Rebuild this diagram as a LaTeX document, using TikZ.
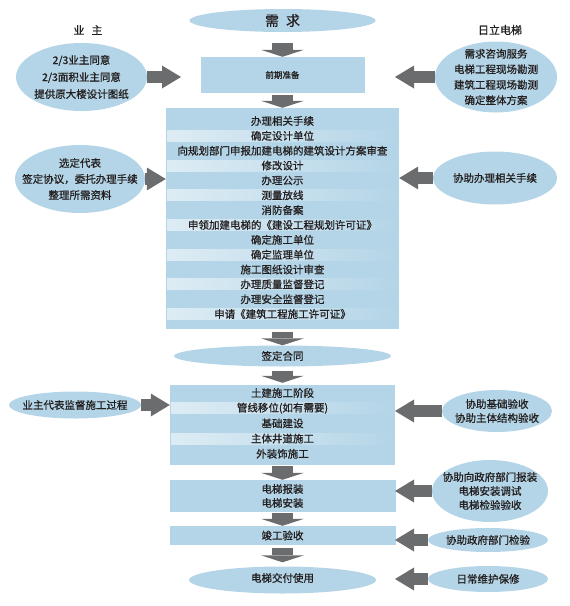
\documentclass[tikz,border=0pt]{standalone}
\usepackage{fontspec}
\newfontfamily\cjk[FakeBold=0.8]{Noto Sans CJK SC}
\usetikzlibrary{arrows.meta}
\usetikzlibrary{shapes.geometric}
\definecolor{paleblue}{HTML}{B4D5E7}
\definecolor{arrowgrey}{HTML}{6B6C6E}
\definecolor{inkblack}{HTML}{231F20}
\tikzset{
bubble/.style={ellipse, fill=paleblue, inner sep=0pt},
stage/.style={rectangle, fill=paleblue, inner sep=0pt, font=\cjk\fontsize{10.5}{14}\selectfont, text=inkblack, align=center},
item/.style={font=\cjk\fontsize{10.5}{15.5}\selectfont, text=inkblack, align=center, inner sep=0pt},
band/.style={left color=paleblue!45!white, middle color=paleblue!10!white, right color=paleblue},
down_arrow/.style={draw=arrowgrey, fill=arrowgrey, line width=21pt, -{Triangle[width=43pt,length=7pt,line width=0pt]}},
side_arrow/.style={draw=arrowgrey, fill=arrowgrey, line width=12pt, -{Triangle[width=23pt,length=19pt,line width=0pt]}}
}

\begin{document}
\begin{tikzpicture}[x=1pt, y=-1pt]
    \useasboundingbox (0,0) rectangle (570,606);
    \coordinate (left_stop) at (181,0);
    \coordinate (right_stop) at (395,0);

    % column titles
    \node[item, font=\cjk\fontsize{11}{13}\selectfont] (owner_title) at (88,30) {业\hspace{7pt}主};
    \node[item, font=\cjk\fontsize{11}{13}\selectfont] (hitachi_title) at (500,30) {日立电梯};

    % main flow
    \node[bubble, minimum width=186pt, minimum height=23pt] (need) at (282.5,20.5) {};
    \node[item, font=\cjk\fontsize{14}{16}\selectfont] (need_text) at (need) {需\hspace{7pt}求};
    \node[stage, minimum width=164pt, minimum height=36pt, font=\cjk\fontsize{8.5}{10}\selectfont] (prep) at (282.5,75) {前期准备};
    \node[stage, minimum width=233pt, minimum height=221pt] (procs) at (282.5,218.5) {};
    \foreach \i in {2,4,...,14}
        \fill[band] (167,{121+14.85*(\i-1)-5.5}) rectangle (398,{121+14.85*(\i-1)+5.5});
    \foreach \t [count=\i] in {办理相关手续, 确定设计单位, 向规划部门申报加建电梯的建筑设计方案审查, 修改设计, 办理公示, 测量放线, 消防备案, 申领加建电梯的《建设工程规划许可证》, 确定施工单位, 确定监理单位, 施工图纸设计审查, 办理质量监督登记, 办理安全监督登记, 申请《建筑工程施工许可证》}
        \node[item] (proc_\i) at (282.5,{121+14.85*(\i-1)}) {\t};

    \node[bubble, minimum width=217pt, minimum height=21pt] (sign) at (282.5,356) {};
    \node[item] (sign_text) at (sign) {签定合同};
    \node[stage, minimum width=225pt, minimum height=80pt] (build) at (282.5,425) {};
    \foreach \i in {2,4}
        \fill[band] (171,{393+15.2*(\i-1)-5.5}) rectangle (394,{393+15.2*(\i-1)+5.5});
    \foreach \t [count=\i] in {土建施工阶段, 管线移位(如有需要), 基础建设, 主体井道施工, 外装饰施工}
        \node[item] (build_\i) at (282.5,{393+15.2*(\i-1)}) {\t};

    \node[stage, minimum width=226pt, minimum height=32pt] (install) at (282.5,496) {电梯报装\\电梯安装};
    \node[stage, minimum width=226pt, minimum height=19pt] (accept) at (282.5,535.5) {竣工验收};
    \node[bubble, minimum width=187pt, minimum height=27pt] (deliver) at (282.5,580) {};
    \node[item] (deliver_text) at ([yshift=2pt]deliver) {电梯交付使用};

    % owner side
    \node[bubble, minimum width=131pt, minimum height=68pt] (owners) at (81.5,77) {};
    \node[item, font=\cjk\fontsize{10.5}{17}\selectfont] (owners_text) at (owners) {2/3业主同意\\2/3面积业主同意\\提供原大楼设计图纸};
    \node[bubble, minimum width=130pt, minimum height=68pt] (rep) at (80,179) {};
    \node[item, font=\cjk\fontsize{10.5}{16}\selectfont] (rep_text) at (rep) {选定代表\\签定协议，委托办理手续\\整理所需资料};
    \node[bubble, minimum width=132pt, minimum height=27pt] (supervise) at (75,405) {};
    \node[item] (supervise_text) at (supervise) {业主代表监督施工过程};

    % hitachi side
    \node[bubble, minimum width=122pt, minimum height=71pt] (survey) at (496,77) {};
    \node[item] (survey_text) at (survey) {需求咨询服务\\电梯工程现场勘测\\建筑工程现场勘测\\确定整体方案};
    \node[bubble, minimum width=124pt, minimum height=53pt] (assist) at (495,178) {};
    \node[item] (assist_text) at (assist) {协助办理相关手续};
    \node[bubble, minimum width=110pt, minimum height=42pt] (inspect) at (497,411) {};
    \node[item, font=\cjk\fontsize{10.5}{14}\selectfont] (inspect_text) at (inspect) {协助基础验收\\协助主体结构验收};
    \node[bubble, minimum width=116pt, minimum height=62pt] (install_help) at (490,491) {};
    \node[item, font=\cjk\fontsize{10.5}{14}\selectfont] (install_help_text) at (install_help) {协助向政府部门报装\\电梯安装调试\\电梯检验验收};
    \node[bubble, minimum width=120pt, minimum height=24pt] (check_help) at (488,540) {};
    \node[item] (check_help_text) at (check_help) {协助政府部门检验};
    \node[bubble, minimum width=120pt, minimum height=26pt] (maintain) at (488,579) {};
    \node[item] (maintain_text) at (maintain) {日常维护保修};

    % flow arrows
    \draw[down_arrow, shorten <=11pt] (need) -- (prep);
    \draw[down_arrow, shorten <=2pt] (prep) -- (procs);
    \draw[down_arrow, shorten <=3pt] (procs) -- (sign);
    \draw[down_arrow, shorten <=4pt, shorten >=2pt] (sign) -- (build);
    \draw[down_arrow, shorten <=1pt] (build) -- (install);
    \draw[down_arrow, shorten <=1pt] (install) -- (accept);
    \draw[down_arrow, shorten <=3pt, shorten >=4pt] (accept) -- (deliver);

    \draw[side_arrow] (owners.east) -- (owners.east -| left_stop);
    \draw[side_arrow] (rep.east) -- (rep.east -| procs.west);
    \draw[side_arrow] (supervise.east) -- (supervise.east -| build.west);
    \draw[side_arrow] (survey.west) -- (survey.west -| right_stop);
    \draw[side_arrow] (assist.west) -- (assist.west -| procs.east);
    \draw[side_arrow] (inspect.west) -- (inspect.west -| right_stop);
    \draw[side_arrow] (install_help.west) -- (install_help.west -| right_stop);
    \draw[side_arrow] (check_help.west) -- (check_help.west -| right_stop);
    \draw[side_arrow] (maintain.west) -- (maintain.west -| right_stop);
\end{tikzpicture}
\end{document}
